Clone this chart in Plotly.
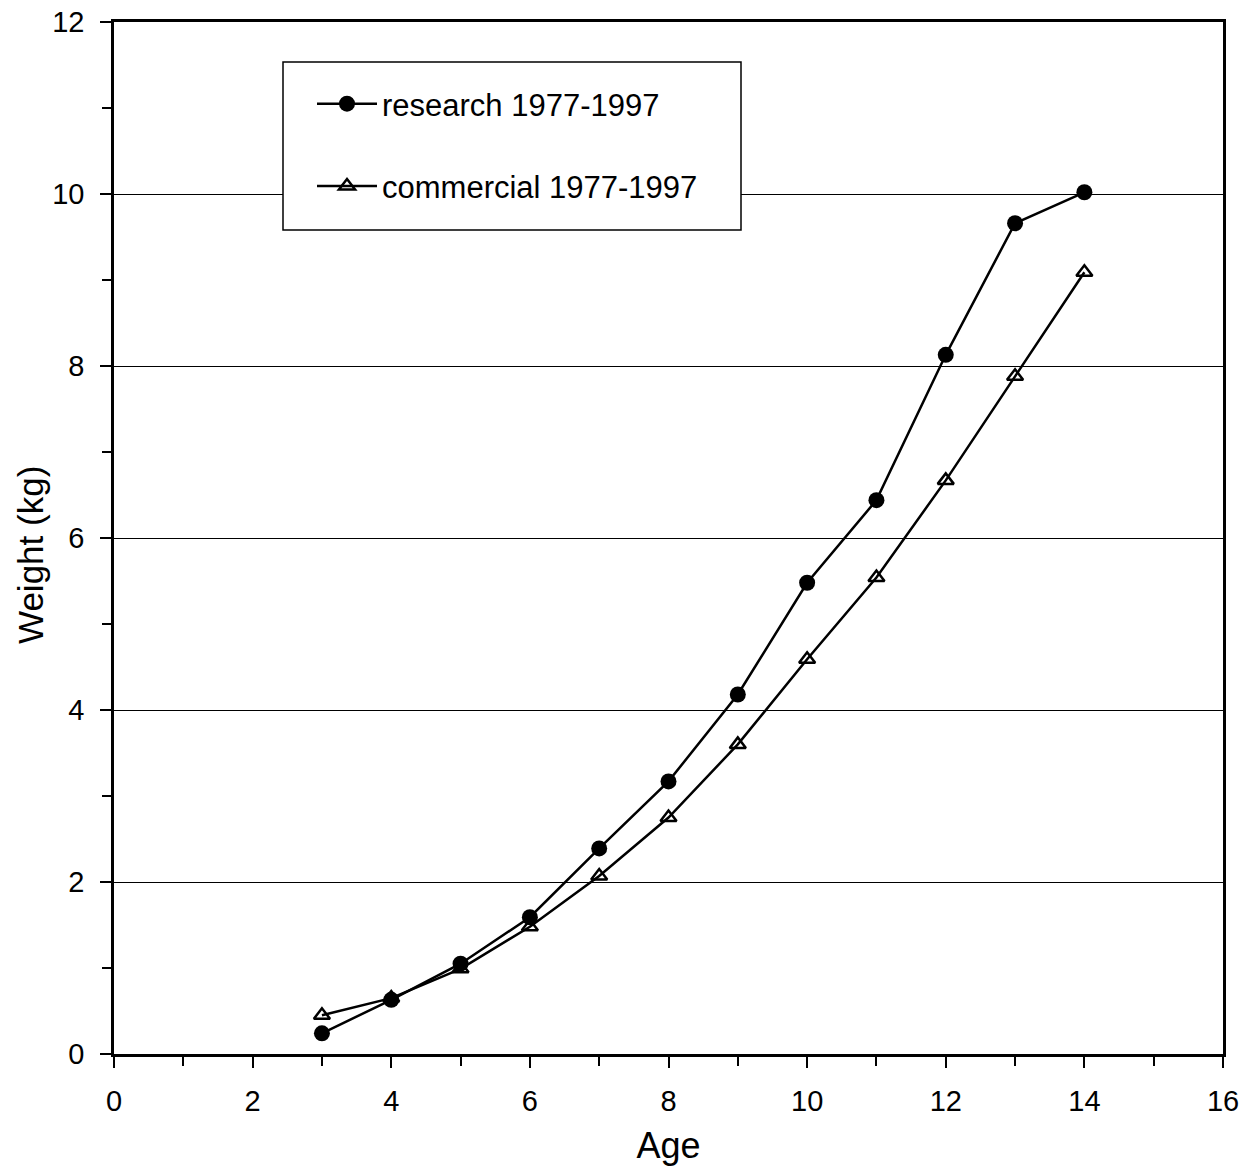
import plotly.graph_objects as go

ages = [3, 4, 5, 6, 7, 8, 9, 10, 11, 12, 13, 14]
research = [0.24, 0.63, 1.05, 1.59, 2.39, 3.17, 4.18, 5.48, 6.44, 8.13, 9.66, 10.02]
commercial = [0.45, 0.65, 0.99, 1.48, 2.07, 2.75, 3.60, 4.59, 5.54, 6.67, 7.88, 9.09]
x_ticks = [0, 2, 4, 6, 8, 10, 12, 14, 16]
y_ticks = [0, 2, 4, 6, 8, 10, 12]
x_title = "Age"
y_title = "Weight (kg)"

FONT = "Liberation Sans, Arial, sans-serif"

fig = go.Figure()
fig.add_trace(go.Scatter(
    x=ages, y=research, mode="lines+markers", name="research 1977-1997",
    line=dict(color="black", width=2.5),
    marker=dict(symbol="circle", size=16, color="black"),
    legendgroup="a",
))
fig.add_trace(go.Scatter(
    x=ages, y=commercial, mode="lines+markers", name="commercial 1977-1997",
    line=dict(color="black", width=2.5),
    marker=dict(symbol="triangle-up-open", size=14, color="black", line=dict(width=2.5)),
    legendgroup="b",
))

fig.add_shape(type="rect", xref="paper", yref="paper",
              x0=(283 - 114) / 1109, x1=(741 - 114) / 1109,
              y0=(1054 - 230) / 1032, y1=(1054 - 62) / 1032,
              fillcolor="white", line=dict(color="black", width=1.5), layer="above")

fig.add_annotation(text=y_title, xref="paper", yref="paper",
                   x=(30 - 114) / 1109, y=(1054 - 555) / 1032,
                   xanchor="center", yanchor="middle", textangle=-90, showarrow=False,
                   font=dict(size=35, family=FONT, color="black"))

fig.update_layout(
    width=1251, height=1173,
    margin=dict(l=114, r=28, t=22, b=119, autoexpand=False),
    paper_bgcolor="white", plot_bgcolor="white",
    font=dict(family=FONT, color="black", size=29),
    showlegend=True,
    legend=dict(
        x=(312 - 114) / 1109, y=(1054 - 77) / 1032, xanchor="left", yanchor="top",
        bgcolor="rgba(0,0,0,0)", borderwidth=0,
        font=dict(size=31, family=FONT),
        traceorder="grouped", tracegroupgap=39, itemwidth=60,
    ),
    xaxis=dict(
        range=[0, 16], tickvals=x_ticks, ticks="outside", ticklen=11, tickwidth=1.5,
        tickcolor="black", showline=True, linecolor="black", linewidth=2.5, mirror=True,
        showgrid=False, zeroline=False, ticklabelstandoff=8, automargin=False,
        minor=dict(tickvals=[1, 3, 5, 7, 9, 11, 13, 15], ticks="outside", ticklen=9,
                   tickcolor="black", tickwidth=1.5),
        title=dict(text=x_title, font=dict(size=36), standoff=18),
        tickfont=dict(size=29),
    ),
    yaxis=dict(
        range=[0, 12], tickvals=y_ticks, ticks="outside", ticklen=11, tickwidth=1.5,
        tickcolor="black", showline=True, linecolor="black", linewidth=2.5, mirror=True,
        showgrid=True, gridcolor="black", gridwidth=1.2, zeroline=False,
        ticklabelstandoff=10, automargin=False,
        minor=dict(tickvals=[1, 3, 5, 7, 9, 11], ticks="outside", ticklen=9,
                   tickcolor="black", tickwidth=1.5),
        tickfont=dict(size=29),
    ),
)

fig.write_html("out.html")
